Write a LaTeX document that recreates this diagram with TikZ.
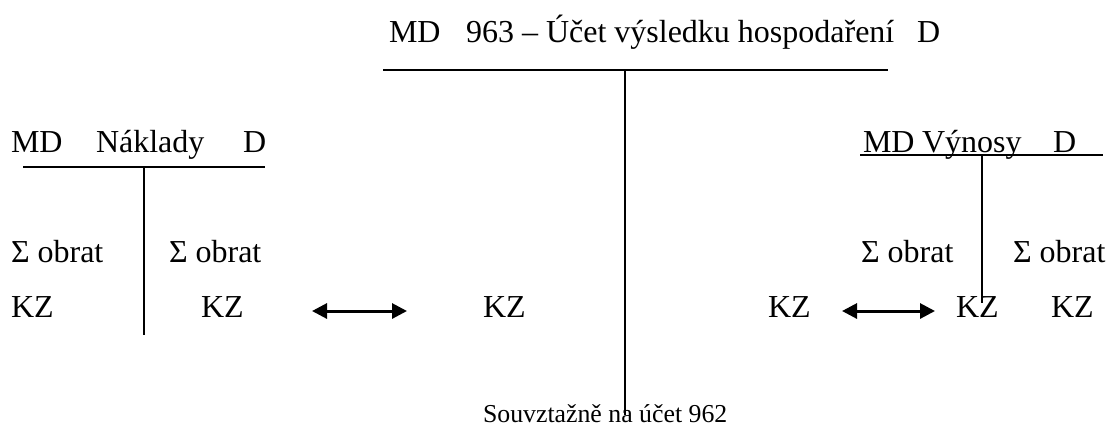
\documentclass[tikz,border=0pt]{standalone}
\usepackage{fontspec}
\setmainfont{Liberation Serif}
\usetikzlibrary{arrows.meta, positioning}

\begin{document}
\begin{tikzpicture}[x=0.5pt, y=-0.5pt, line width=1pt,
  lbl/.style={anchor=base west, inner sep=0pt, font=\fontsize{16}{19}\selectfont},
  small/.style={anchor=base west, inner sep=0pt, font=\fontsize{12.9}{15}\selectfont},
  link/.style={{Triangle[length=7.5pt,width=7.5pt]}-{Triangle[length=7.5pt,width=7.5pt]}, line width=1.5pt}]
  \useasboundingbox (0,0) rectangle (1106,425);

  % main account 963
  \coordinate (V0) at (383,70);
  \coordinate (V1) at (888,70);
  \coordinate (V2) at (625,70);
  \coordinate (V3) at (625,415);
  \draw (V0) -- (V1);
  \draw (V2) -- (V3);
  \node[lbl] (vmd) at (388,42) {MD};
  \node[lbl] (vname) at (465,42) {963 – Účet výsledku hospodaření};
  \node[lbl] (vd) at (916,42) {D};
  \node[small] (vnote) at (482,422) {Souvztažně na účet 962};

  % costs
  \coordinate (N0) at (23,167);
  \coordinate (N1) at (265,167);
  \coordinate (N2) at (144,167);
  \coordinate (N3) at (144,335);
  \draw (N0) -- (N1);
  \draw (N2) -- (N3);
  \node[lbl] (nmd) at (10,152) {MD};
  \node[lbl] (nname) at (95,152) {Náklady};
  \node[lbl] (nd) at (242,152) {D};
  \node[lbl] (nsl) at (10,262) {Σ obrat};
  \node[lbl] (nsr) at (168,262) {Σ obrat};
  \node[lbl] (nkl) at (10,317) {KZ};
  \node[lbl] (nkr) at (200,317) {KZ};

  % revenues
  \coordinate (R0) at (860,155);
  \coordinate (R1) at (1103,155);
  \coordinate (R2) at (982,155);
  \coordinate (R3) at (982,303);
  \node[lbl] (rmd) at (862,152) {MD};
  \node[lbl] (rname) at (921,152) {Výnosy};
  \node[lbl] (rd) at (1052,152) {D};
  \draw (R0) -- (R1);
  \draw (R2) -- (R3);
  \node[lbl] (rsl) at (860,262) {Σ obrat};
  \node[lbl] (rsr) at (1012,262) {Σ obrat};
  \node[lbl] (rkl) at (955,317) {KZ};
  \node[lbl] (rkr) at (1050,317) {KZ};

  % closing balances of 963
  \node[lbl] (vkl) at (482,317) {KZ};
  \node[lbl] (vkr) at (767,317) {KZ};

  \coordinate (A0) at (312,311);
  \coordinate (A1) at (407,311);
  \coordinate (B0) at (842,311);
  \coordinate (B1) at (935,311);
  \draw[link] (A0) -- (A1);
  \draw[link] (B0) -- (B1);
\end{tikzpicture}
\end{document}
